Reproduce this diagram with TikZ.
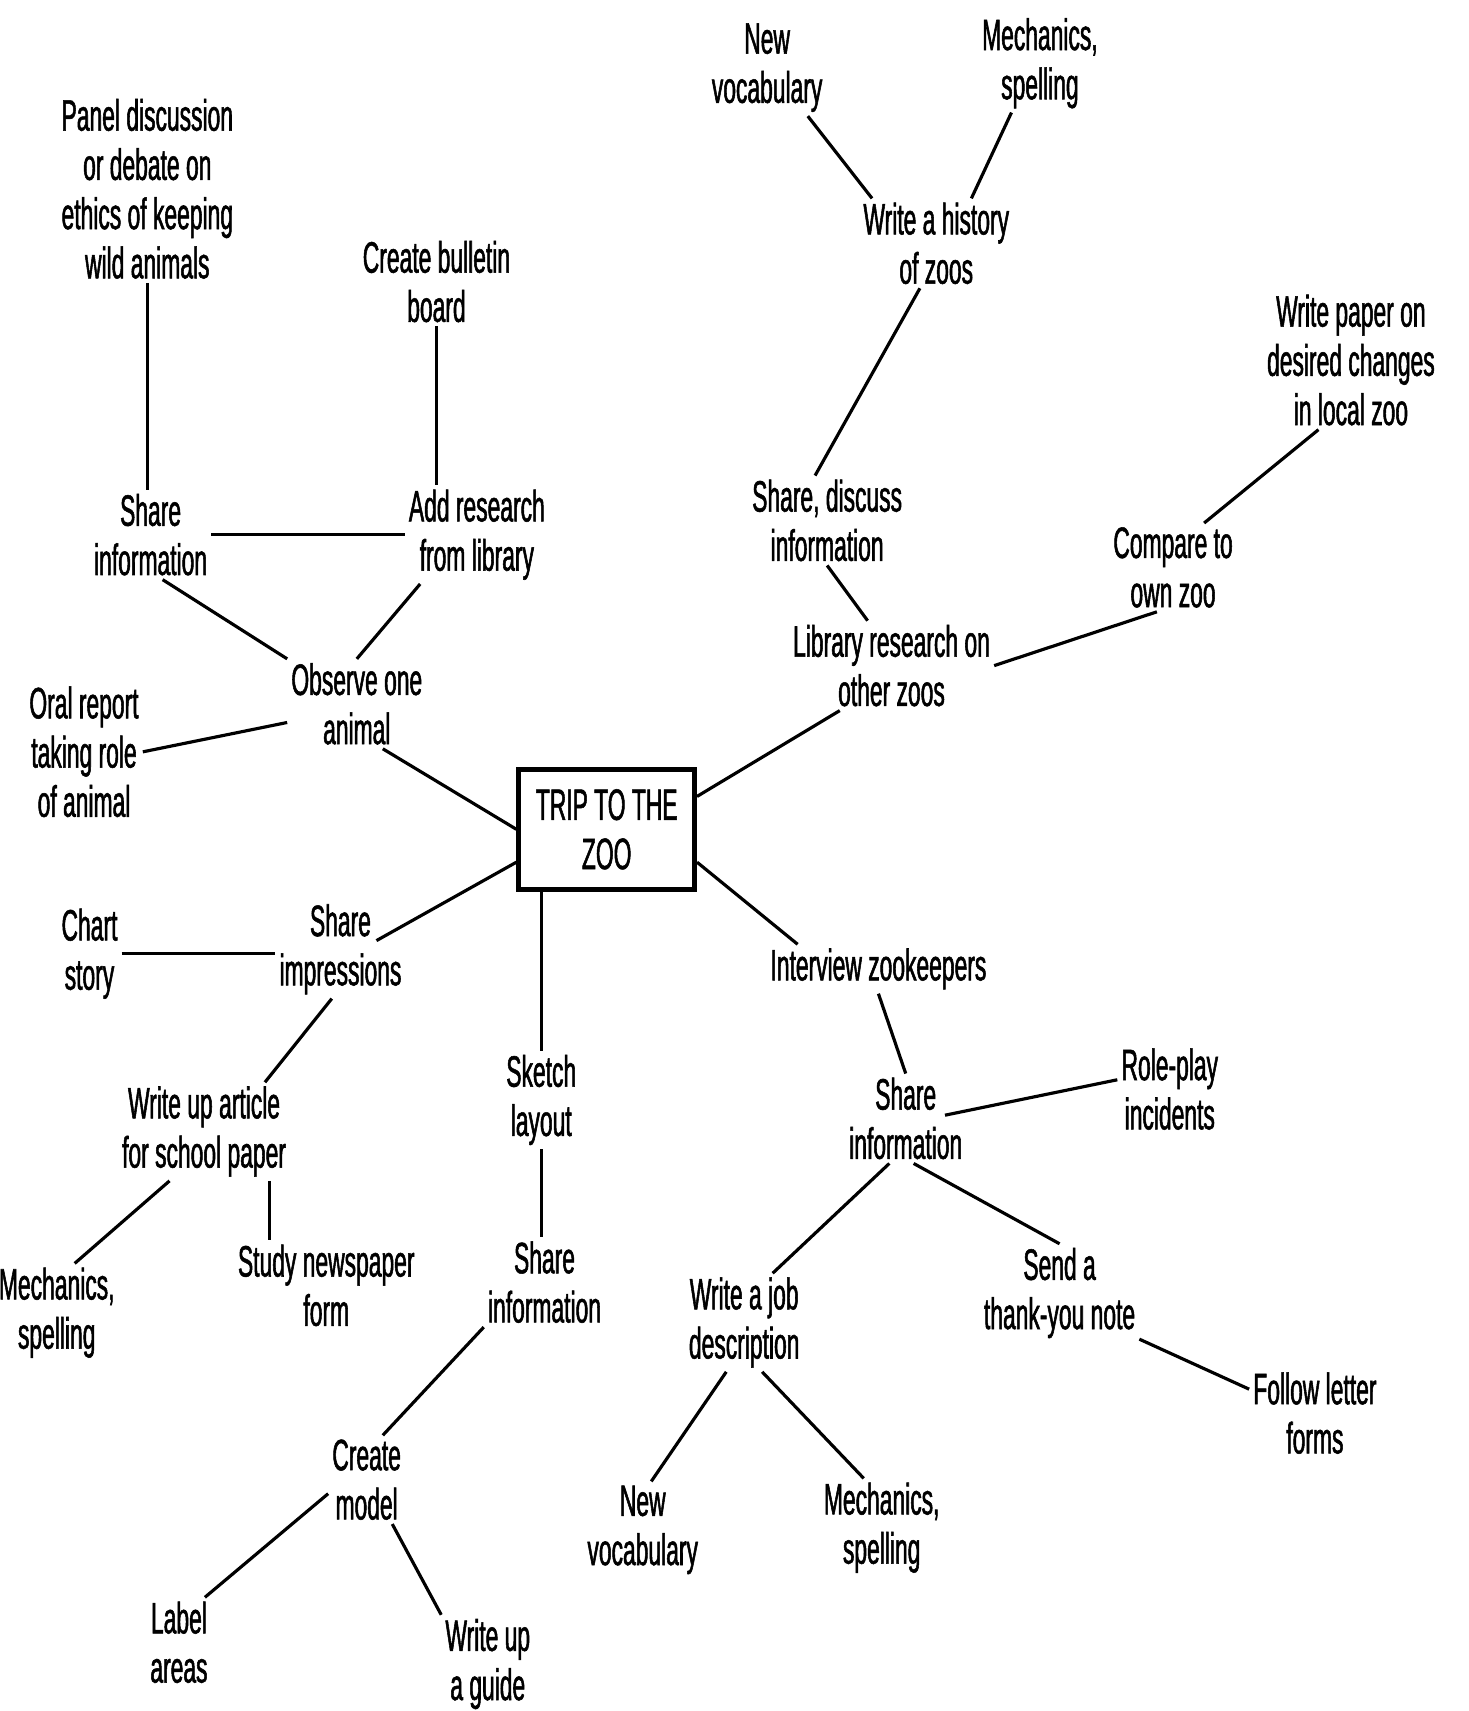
\documentclass[tikz,border=0pt]{standalone}
\usepackage{fontspec}
\setmainfont{Liberation Sans}[FakeStretch=0.52, RawFeature={embolden=1.2}]
\usepackage{tikz}
\usetikzlibrary{positioning, calc}

\begin{document}
\begin{tikzpicture}[x=0.010914cm, y=-0.010914cm,
  txt/.style={align=center, inner sep=1pt, font=\fontsize{12.5}{14}\selectfont},
  link/.style={line width=0.9pt},
  hub/.style={txt, draw, line width=1.3pt, minimum width=1.76cm, minimum height=1.2cm}]
% --- FUNDO E MOLDURA ---
\useasboundingbox[fill=white] (0,0) rectangle (1346,1568);

% LAYER 1: Centro
\node[hub] (trip) at (556,760) {TRIP TO THE\\ZOO};

% LAYER 2: Ramo esquerdo superior
\node[txt] (panel) at (135,173) {Panel discussion\\or debate on\\ethics of keeping\\wild animals};
\node[txt] (bulletin) at (400,258) {Create bulletin\\board};
\node[txt] (shareA) at (138,490) {Share\\information};
\node[txt] (research) at (437,490) {Add research\\from library};
\node[txt] (observe) at (327,645) {Observe one\\animal};
\node[txt] (oral) at (77,689) {Oral report\\taking role\\of animal};

% LAYER 3: Ramo direito superior
\node[txt] (newvocA) at (703,62) {New\\vocabulary};
\node[txt] (mechA) at (953,58) {Mechanics,\\spelling};
\node[txt] (history) at (858,223) {Write a history\\of zoos};
\node[txt] (paper) at (1238,330) {Write paper on\\desired changes\\in local zoo};
\node[txt] (discuss) at (758,477) {Share, discuss\\information};
\node[txt] (compare) at (1075,520) {Compare to\\own zoo};
\node[txt] (library) at (817,610) {Library research on\\other zoos};

% LAYER 4: Ramo esquerdo inferior
\node[txt] (chart) at (82,874) {Chart\\story};
\node[txt] (impress) at (312,870) {Share\\impressions};
\node[txt] (article) at (187,1037) {Write up article\\for school paper};
\node[txt] (mechB) at (52,1203) {Mechanics,\\spelling};
\node[txt] (study) at (299,1178) {Study newspaper\\form};

% LAYER 5: Ramo central inferior
\node[txt] (sketch) at (496,1008) {Sketch\\layout};
\node[txt] (shareB) at (499,1175) {Share\\information};
\node[txt] (model) at (336,1356) {Create\\model};
\node[txt] (label) at (164,1505) {Label\\areas};
\node[txt] (guide) at (447,1525) {Write up\\a guide};

% LAYER 6: Ramo direito inferior
\node[txt] (interview) at (805,888) {Interview zookeepers};
\node[txt] (shareC) at (830,1025) {Share\\information};
\node[txt] (roleplay) at (1072,998) {Role-play\\incidents};
\node[txt] (job) at (682,1212) {Write a job\\description};
\node[txt] (thanks) at (971,1185) {Send a\\thank-you note};
\node[txt] (letter) at (1205,1295) {Follow letter\\forms};
\node[txt] (newvocB) at (589,1402) {New\\vocabulary};
\node[txt] (mechC) at (808,1400) {Mechanics,\\spelling};

% LAYER 7: Ligacoes
% Esquerda superior
\draw[link] (panel.south) -- (panel.south |- shareA.north);
\draw[link] (bulletin.south) -- (bulletin.south |- research.north);
\draw[link] (shareA.east) -- (research.west);
\draw[link] (shareA.-75) -- (observe.north west);
\draw[link] (research.221) -- (observe.north);
\draw[link] (oral.east) -- (observe.195);
\draw[link] (observe.-60) -- (trip.west);
% Direita superior
\draw[link] (newvocA.-50) -- (history.145);
\draw[link] (mechA.-120) -- (history.52);
\draw[link] (history.-110) -- (discuss.105);
\draw[link] (discuss.south) -- (library.118);
\draw[link] (library.east) -- (compare.-110);
\draw[link] (compare.55) -- (paper.-115);
\draw[link] (trip.20) -- (library.221);
% Esquerda inferior
\draw[link] (trip.200) -- ($(impress)+(33,-8)$);
\draw[link] (chart.east) -- (chart.east -| impress.west);
\draw[link] (impress.-100) -- (article.39);
\draw[link] (article.235) -- (mechB.70);
\draw[link] (article.-37) -- (article.-37 |- study.north);
% Centro inferior
\draw[link] (trip.south -| sketch.north) -- (sketch.north);
\draw[link] (sketch.south) -- (sketch.south |- shareB.north);
\draw[link] (shareB.south west) -- (model.70);
\draw[link] (model.200) -- (label.60);
\draw[link] (model.-60) -- (guide.north west);
% Direita inferior
\draw[link] (trip.-20) -- (interview.163);
\draw[link] (interview.south) -- (shareC.north);
\draw[link] ($(shareC)+(36,-3)$) -- (roleplay.170);
\draw[link] (shareC.-110) -- (job.60);
\draw[link] (shareC.-80) -- (thanks.north);
\draw[link] (thanks.-30) -- (letter.160);
\draw[link] (job.-110) -- (newvocB.80);
\draw[link] (job.-70) -- (mechC.110);
\end{tikzpicture}
\end{document}
